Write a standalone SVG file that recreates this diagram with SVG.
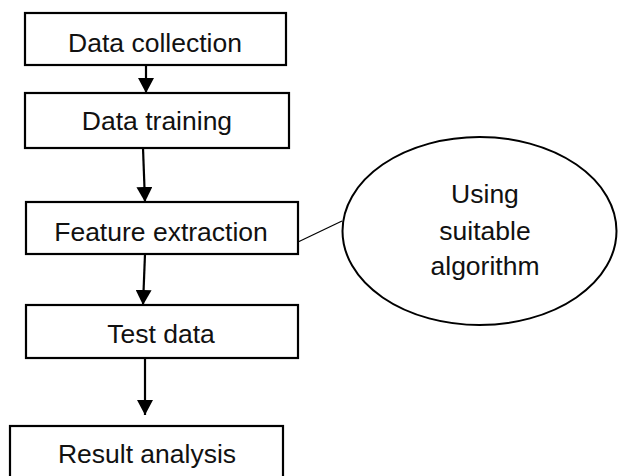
<svg xmlns="http://www.w3.org/2000/svg" width="618" height="476" viewBox="0 0 618 476">
<style>
.box{fill:#fff;stroke:#000;stroke-width:2.2}
.t{font-family:"Liberation Sans",Arial,sans-serif;font-size:26.5px;fill:#111;text-anchor:middle}
.c{stroke:#000;stroke-width:2.2;fill:none}
.thin{stroke:#000;stroke-width:1.2;fill:none}
</style>
<defs>
<marker id="ah" markerUnits="userSpaceOnUse" markerWidth="16" markerHeight="16" viewBox="0 0 16 16" refX="15" refY="8" orient="auto">
<path d="M0,0 L15,8 L0,16 Z" fill="#000"/>
</marker>
</defs>
<rect width="618" height="476" fill="#fff"/>
<g id="connectors">
<line class="c" x1="146" y1="65" x2="146" y2="93" marker-end="url(#ah)"/>
<line class="c" x1="143" y1="148" x2="145" y2="202" marker-end="url(#ah)"/>
<line class="c" x1="145" y1="254" x2="143" y2="305" marker-end="url(#ah)"/>
<line class="c" x1="145" y1="358" x2="145" y2="415" marker-end="url(#ah)"/>
<line class="thin" x1="298" y1="242" x2="342" y2="221"/>
</g>
<g id="n1"><rect class="box" x="25" y="13" width="261" height="52"/><text class="t" x="155" y="52">Data collection</text></g>
<g id="n2"><rect class="box" x="25" y="93" width="264" height="55"/><text class="t" x="157" y="130">Data training</text></g>
<g id="n3"><rect class="box" x="26" y="202" width="272" height="52"/><text class="t" x="161" y="241">Feature extraction</text></g>
<g id="n4"><rect class="box" x="26" y="305" width="272" height="53"/><text class="t" x="161" y="343">Test data</text></g>
<g id="n5"><rect class="box" x="10" y="426" width="273" height="60"/><text class="t" x="147" y="463">Result analysis</text></g>
<g id="n6"><ellipse cx="479.5" cy="231" rx="137" ry="94" fill="#fff" stroke="#000" stroke-width="2"/>
<text class="t" x="485" y="203">Using</text>
<text class="t" x="485" y="240">suitable</text>
<text class="t" x="485" y="275">algorithm</text></g>
</svg>
